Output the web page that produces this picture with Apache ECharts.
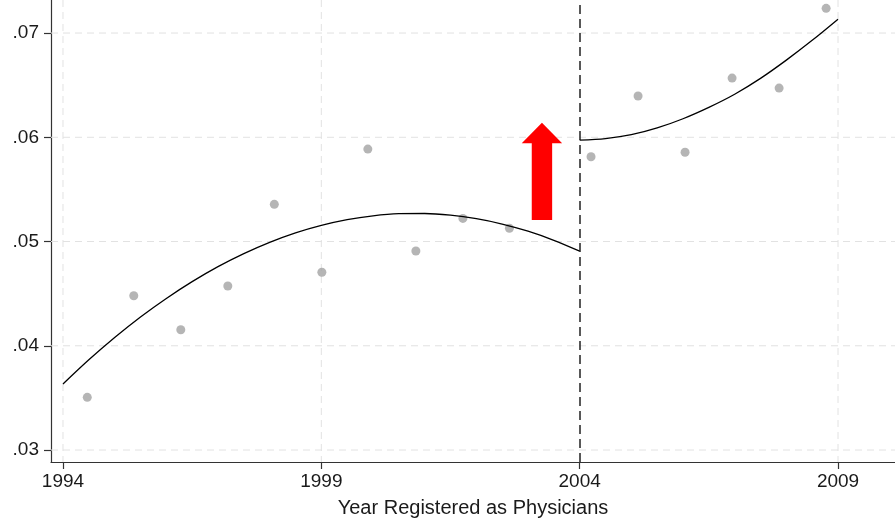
<!DOCTYPE html>
<html>
<head>
<meta charset="utf-8">
<script src="https://cdn.jsdelivr.net/npm/echarts@6/dist/echarts.min.js"></script>
<style>
html,body{margin:0;padding:0;background:#fff;overflow:hidden;}
#chart{width:895px;height:520px;}
</style>
</head>
<body>
<div id="chart"></div>
<script>
// ---- data ----
const xTicks = [1994, 1999, 2004, 2009];
const yTicks = [0.03, 0.04, 0.05, 0.06, 0.07];
const xTitle = 'Year Registered as Physicians';

const binYears = [1994.47, 1995.37, 1996.28, 1997.19, 1998.09, 1999.01, 1999.90, 2000.83, 2001.74, 2002.64,
                  2004.22, 2005.13, 2006.04, 2006.95, 2007.86, 2008.77];
const binMeans = [0.03505, 0.04480, 0.04154, 0.04573, 0.05357, 0.04705, 0.05887, 0.04909, 0.05222, 0.05127,
                  0.05813, 0.06396, 0.05856, 0.06568, 0.06472, 0.07237];

const fitLeftYears = [1994.0, 1994.5, 1995.0, 1995.5, 1996.0, 1996.5, 1997.0, 1997.5, 1998.0, 1998.5,
                      1999.0, 1999.5, 2000.0, 2000.5, 2001.0, 2001.5, 2002.0, 2002.5, 2003.0, 2003.5, 2004.0];
const fitLeftValues = [0.03633, 0.03865, 0.04079, 0.04276, 0.04454, 0.04615, 0.04759, 0.04884, 0.04992, 0.05083,
                       0.05155, 0.05210, 0.05247, 0.05267, 0.05269, 0.05253, 0.05219, 0.05168, 0.05099, 0.05012, 0.04908];

const fitRightYears = [2004.0, 2004.5, 2005.0, 2005.5, 2006.0, 2006.5, 2007.0, 2007.5, 2008.0, 2008.5, 2009.0];
const fitRightValues = [0.05973, 0.05988, 0.06025, 0.06090, 0.06178, 0.06287, 0.06413, 0.06565, 0.06740, 0.06930, 0.07133];

const cutoffYear = 2004;
// arrow: [year, bottom value, head base value, tip value]
const arrowData = [[2003.27, 0.05206, 0.05942, 0.06140]];

// ---- chart ----
const chart = echarts.init(document.getElementById('chart'), null, {renderer: 'canvas'});
const font = 'Liberation Sans, Arial, Helvetica, sans-serif';

const pair = (xs, ys) => xs.map((x, i) => [x, ys[i]]);

// grid line items: [orientation (0 = vertical at year, 1 = horizontal at value), value]
const gridItems = xTicks.filter(v => v !== cutoffYear).map(v => [0, v])
  .concat(yTicks.map(v => [1, v]));

chart.setOption({
  animation: false,
  backgroundColor: '#ffffff',
  grid: {left: 51, right: 0, top: 0, bottom: 58, containLabel: false, outerBoundsMode: 'none'},
  xAxis: {
    type: 'value',
    min: 1993.768,
    max: 2010.103,
    name: xTitle,
    nameLocation: 'middle',
    nameGap: 36,
    nameTextStyle: {fontFamily: font, fontSize: 20, color: '#1a1a1a'},
    axisLine: {show: true, onZero: false, lineStyle: {color: '#333', width: 1.2}},
    axisTick: {show: true, inside: false, length: 7, customValues: xTicks, lineStyle: {color: '#333', width: 1.2}},
    axisLabel: {customValues: xTicks, fontFamily: font, fontSize: 19, color: '#1a1a1a', margin: 10,
                formatter: v => String(Math.round(v))},
    splitLine: {show: false},
    splitArea: {show: false},
    minorSplitLine: {show: false}
  },
  yAxis: {
    type: 'value',
    min: 0.02885,
    max: 0.07317,
    axisLine: {show: true, onZero: false, lineStyle: {color: '#333', width: 1.2}},
    axisTick: {show: true, inside: false, length: 7, customValues: yTicks, lineStyle: {color: '#333', width: 1.2}},
    axisLabel: {customValues: yTicks, fontFamily: font, fontSize: 19, color: '#1a1a1a', margin: 12,
                formatter: v => v.toFixed(2).replace(/^0/, '')},
    splitLine: {show: false},
    splitArea: {show: false},
    minorSplitLine: {show: false}
  },
  series: [
    {
      type: 'custom',
      data: gridItems,
      z: 1,
      silent: true,
      clip: true,
      renderItem: function (params, api) {
        const cs = params.coordSys;
        const vertical = api.value(0) === 0;
        let x1, y1, x2, y2;
        if (vertical) {
          const p = api.coord([api.value(1), 0.05]);
          x1 = x2 = p[0]; y1 = cs.y; y2 = cs.y + cs.height;
        } else {
          const p = api.coord([2000, api.value(1)]);
          y1 = y2 = p[1]; x1 = cs.x; x2 = cs.x + cs.width;
        }
        return {
          type: 'line',
          shape: {x1: x1, y1: y1, x2: x2, y2: y2},
          style: {stroke: '#e2e2e2', lineWidth: 1, lineDash: [7, 5]}
        };
      }
    },
    {
      type: 'scatter',
      data: pair(binYears, binMeans),
      symbolSize: 9,
      itemStyle: {color: '#a3a3a3'},
      z: 3,
      markLine: {
        silent: true,
        z: 2,
        symbol: ['none', 'none'],
        label: {show: false},
        lineStyle: {color: '#222', type: [9, 5], width: 1.5},
        data: [{xAxis: cutoffYear}]
      }
    },
    {
      type: 'line',
      data: pair(fitLeftYears, fitLeftValues),
      smooth: 0.3,
      showSymbol: false,
      lineStyle: {color: '#000', width: 1.3},
      z: 4
    },
    {
      type: 'line',
      data: pair(fitRightYears, fitRightValues),
      smooth: 0.3,
      showSymbol: false,
      lineStyle: {color: '#000', width: 1.3},
      z: 4
    },
    {
      type: 'custom',
      data: arrowData,
      z: 5,
      renderItem: function (params, api) {
        const bottom = api.coord([api.value(0), api.value(1)]);
        const base = api.coord([api.value(0), api.value(2)]);
        const tip = api.coord([api.value(0), api.value(3)]);
        const cx = bottom[0];
        const sw = 10.2, hw = 20.2;
        return {
          type: 'polygon',
          shape: {points: [
            [cx - sw, bottom[1]], [cx + sw, bottom[1]], [cx + sw, base[1]], [cx + hw, base[1]],
            [cx, tip[1]], [cx - hw, base[1]], [cx - sw, base[1]]
          ]},
          style: {fill: '#ff0000', stroke: null}
        };
      }
    }
  ]
});
</script>
</body>
</html>
